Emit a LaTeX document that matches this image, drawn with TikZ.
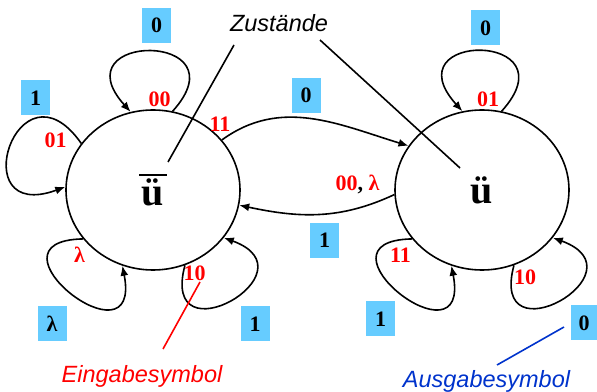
\documentclass[tikz,border=0pt]{standalone}
\usepackage{fontspec}
\setmainfont{Liberation Serif}
\setsansfont{Liberation Sans}
\usetikzlibrary{shapes.geometric,arrows.meta}
\definecolor{boxblue}{HTML}{66CCFF}
\definecolor{annblue}{HTML}{0033CC}
\begin{document}
\begin{tikzpicture}[x=1pt,y=1pt,
  state/.style={ellipse,draw,line width=1.6pt,minimum width=174pt,minimum height=160pt,inner sep=0pt,font=\fontsize{40}{40}\selectfont\bfseries},
  edge/.style={line width=1.6pt,-{Latex[length=10pt,width=8pt]}},
  outbox/.style={fill=boxblue,minimum width=29pt,minimum height=35pt,inner sep=0pt,font=\fontsize{22}{22}\selectfont\bfseries},
  inlab/.style={text=red,inner sep=0pt,anchor=base,font=\fontsize{22}{22}\selectfont\bfseries},
  ann/.style={font=\fontsize{23.5}{24}\selectfont\sffamily\itshape,inner sep=0pt,anchor=base},
  pointer/.style={line width=1.6pt}]
\useasboundingbox (0,0) rectangle (597,391);
% states
\node[state] (L) at (153,201) {\vbox{\hrule height 1.8pt\kern3pt\hbox{\kern2.5pt ü\kern2.5pt}}};
\node[state] (R) at (482,201) {ü};
% self loops of L
\draw[edge] (L.76) to[out=48,in=132,distance=108pt] (L.106);
\draw[edge] (L.147) to[out=125,in=200,distance=110pt] (L.178);
\draw[edge] (L.215) to[out=181,in=-79,distance=107pt] (L.248);
\draw[edge] (L.293) to[out=255,in=-20,distance=100pt] (L.326);
% self loops of R
\draw[edge] (R.76) to[out=48,in=132,distance=108pt] (R.104);
\draw[edge] (R.215) to[out=181,in=-79,distance=107pt] (R.248);
\draw[edge] (R.293) to[out=255,in=-20,distance=100pt] (R.326);
% transitions
\draw[edge] (L.36) to[out=36,in=163] (R.149);
\draw[edge] (R.183) to[out=205,in=-12] (L.-10.5);
% input labels
\node[inlab] (i1) at (159.5,284) {00};
\node[inlab] (i2) at (55.5,243) {01};
\node[inlab] (i3) at (79.5,128) {λ};
\node[inlab] (i4) at (194.5,110) {10};
\node[inlab] (i5) at (220,259) {11};
\node[inlab] (i6) at (488,284) {01};
\node[inlab] (i7) at (357.5,200) {00\textcolor{black}{,} λ};
\node[inlab] (i8) at (400.5,128) {11};
\node[inlab] (i9) at (525,106) {10};
% output boxes
\node[outbox] (o1) at (156.5,365.5) {0};
\node[outbox] (o2) at (35.5,293) {1};
\node[outbox] (o3) at (52,67) {λ};
\node[outbox] (o4) at (255,67) {1};
\node[outbox] (o5) at (306,295.5) {0};
\node[outbox] (o6) at (324.5,150.5) {1};
\node[outbox] (o7) at (485.5,363) {0};
\node[outbox] (o8) at (380.5,72) {1};
\node[outbox,minimum width=26pt] (o9) at (584,68) {0};
% annotations
\node[ann] (Z) at (279,359) {Zustände};
\coordinate (z1) at (234,346);
\coordinate (z1e) at (168,229);
\coordinate (z2) at (320,351);
\coordinate (z2e) at (460,223);
\draw[pointer] (z1) -- (z1e);
\draw[pointer] (z2) -- (z2e);
\node[ann,text=red] (E) at (142,9) {Eingabesymbol};
\coordinate (e1) at (163,42);
\coordinate (e1e) at (200,109);
\draw[pointer,red] (e1) -- (e1e);
\node[ann,text=annblue] (A) at (486.5,4) {Ausgabesymbol};
\coordinate (a1) at (497,26);
\coordinate (a1e) at (564,64);
\draw[pointer,annblue] (a1) -- (a1e);
\end{tikzpicture}
\end{document}
